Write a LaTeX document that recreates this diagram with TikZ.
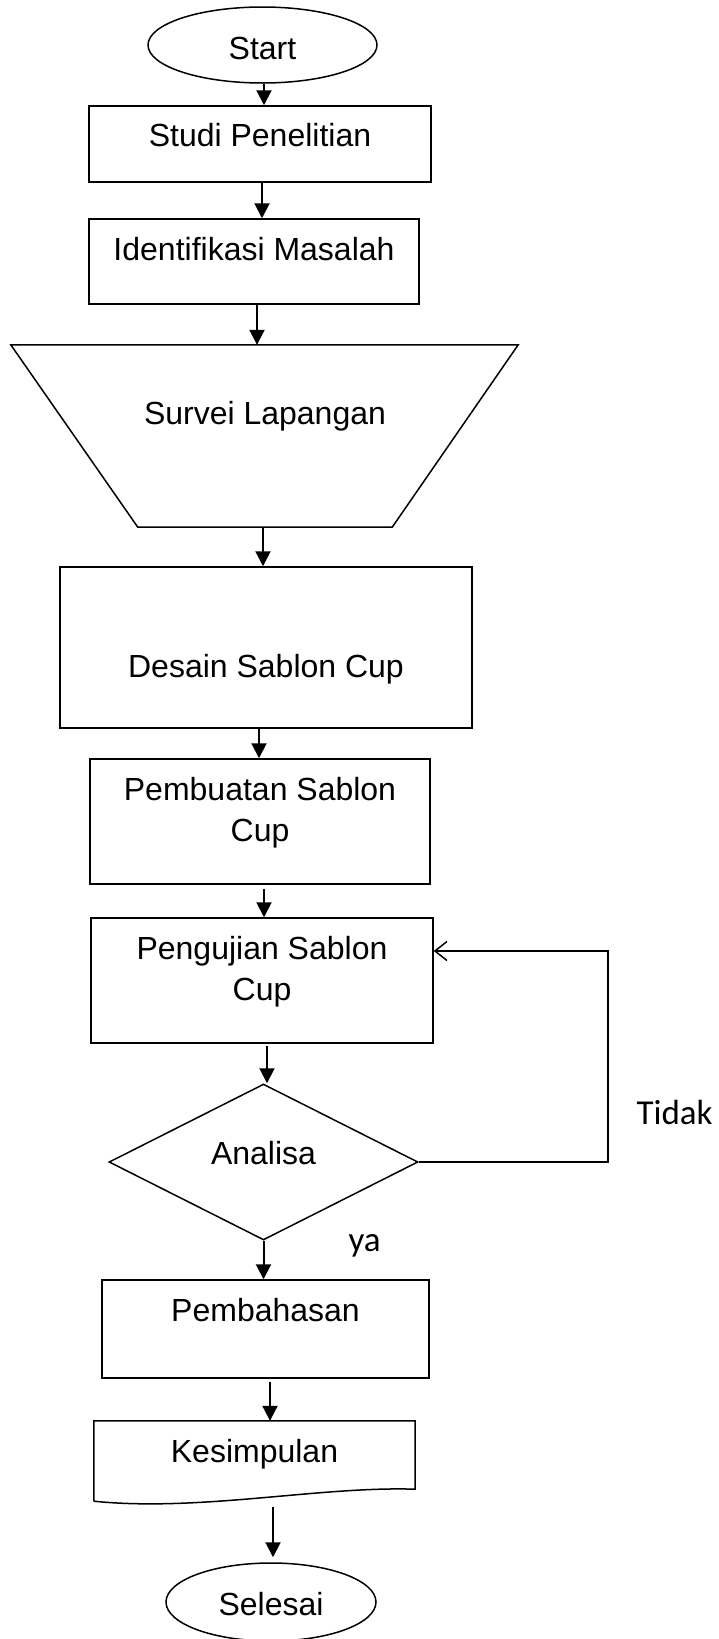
\documentclass[tikz,border=0pt]{standalone}
\usepackage{fontspec}
\setmainfont{Liberation Sans}
\newfontfamily\labelfont{Carlito}
\usetikzlibrary{positioning}
\usetikzlibrary{calc}
\usetikzlibrary{arrows.meta}
\usetikzlibrary{shapes.geometric}

\begin{document}
\begin{tikzpicture}[x=1pt, y=-1pt, text centered,
        font=\fontsize{32}{41}\selectfont,
        box/.style={draw, rectangle, line width=1.5pt, inner sep=0pt, align=center},
        terminal/.style={draw, ellipse, line width=1.5pt, inner sep=0pt, text depth=0pt},
        arr/.style={-{Triangle[length=15pt, width=15pt]}, line width=2pt},
        back/.style={-{Straight Barb[length=12pt, width=19pt]}, line width=1.5pt},
        answer/.style={anchor=base west, font=\labelfont\fontsize{35}{42}\selectfont}]
        \useasboundingbox (0,0) rectangle (719,1639);

        \node[terminal, minimum width=229pt, minimum height=76pt, text height=28pt] (start) at (262.5,45) {Start};
        \node[box, minimum width=342pt, text height=40pt, text depth=36pt] (studi) at (260,144) {Studi Penelitian};
        \node[box, minimum width=330pt, text height=41pt, text depth=44pt] (ident) at (254,261.5) {Identifikasi Masalah};

        \node[inner sep=0pt, minimum width=254pt, minimum height=182pt, text height=24pt, text depth=48pt] (survei) at (265,436) {Survei Lapangan};
        \draw[line width=1.5pt] ([xshift=-127pt]survei.north west) -- (survei.south west) -- (survei.south east) -- ([xshift=126pt]survei.north east) -- cycle;

        \node[box, minimum width=412pt, text height=110pt, text depth=51pt] (desain) at (266,647.5) {Desain Sablon Cup};
        \node[box, minimum width=340pt, text height=82pt, text depth=43pt] (pembuatan) at (260,821.5) {Pembuatan Sablon\\Cup};
        \node[box, minimum width=342pt, text height=82.5pt, text depth=42.5pt] (pengujian) at (262,980.5) {Pengujian Sablon\\Cup};
        \node[draw, diamond, line width=1.5pt, inner sep=0pt, minimum width=309pt, minimum height=156pt, text height=24pt, text depth=20pt] (analisa) at (263.5,1162) {Analisa};
        \node[box, minimum width=327pt, text height=41pt, text depth=57pt] (pembahasan) at (265.5,1329) {Pembahasan};

        \node[inner sep=0pt, minimum width=321pt, text height=41pt, text depth=39pt] (kesimpulan) at (254.5,1461) {Kesimpulan};
        \draw[line width=1.5pt] (kesimpulan.south west) -- (kesimpulan.north west) -- (kesimpulan.north east) -- ([yshift=12pt]kesimpulan.south east) .. controls (320,1486) and (200,1512) .. (kesimpulan.south west);

        \node[terminal, minimum width=210pt, minimum height=78pt, text height=26pt] (selesai) at (271,1602) {Selesai};

        \draw[arr] ([xshift=1.5pt]start.south) -- ([xshift=1.5pt]start.south |- studi.north);
        \draw[arr] ([xshift=2pt]studi.south) -- ([xshift=2pt]studi.south |- ident.north);
        \draw[arr] ([xshift=3pt]ident.south) -- ([xshift=3pt]ident.south |- survei.north);
        \draw[arr] ([xshift=-2pt]survei.south) -- ([xshift=-2pt]survei.south |- desain.north);
        \draw[arr] ([xshift=-7pt]desain.south) -- ([xshift=-7pt]desain.south |- pembuatan.north);
        \draw[arr, shorten <=4pt] ([xshift=4pt]pembuatan.south) -- ([xshift=4pt]pembuatan.south |- pengujian.north);
        \draw[arr, shorten <=2pt] ([xshift=5pt]pengujian.south) -- ([xshift=5pt]pengujian.south |- analisa.north);
        \draw[arr] (analisa.south) -- (analisa.south |- pembahasan.north);
        \draw[arr, shorten <=3pt] ([xshift=4.5pt]pembahasan.south) -- ([xshift=4.5pt]pembahasan.south |- kesimpulan.north);
        \draw[arr, shorten <=6pt, shorten >=5pt] ([xshift=18.5pt]kesimpulan.south) -- ([xshift=18.5pt]kesimpulan.south |- selesai.north);

        \coordinate (loop) at ([xshift=174pt, yshift=29.5pt]pengujian.east);
        \draw[back] (analisa.east) -| (loop) -- (loop -| pengujian.east);

        \node[answer] (tidak) at (633,1124) {Tidak};
        \node[answer] (ya) at (345,1251) {ya};
\end{tikzpicture}
\end{document}
